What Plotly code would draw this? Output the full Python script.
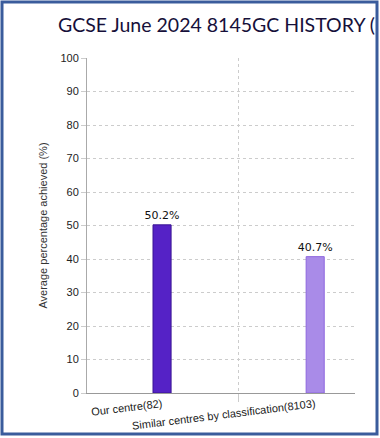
import plotly.graph_objects as go

categories = ["Our centre(82)", "Similar centres by classification(8103)"]
values = [50.2, 40.7]
value_labels = ["50.2%", "40.7%"]
bar_colors = ["#5522C6", "#A98BE8"]
bar_edges = ["#3A1593", "#8D66DE"]
title_text = "GCSE June 2024 8145GC HISTORY ("
y_ticks = [0, 10, 20, 30, 40, 50, 60, 70, 80, 90, 100]

fig = go.Figure()
fig.add_trace(go.Bar(
    x=categories,
    y=values,
    width=0.118,
    marker=dict(color=bar_colors, line=dict(color=bar_edges, width=1)),
    text=value_labels,
    textposition="outside",
    constraintext="none",
    textfont=dict(family="DejaVu Sans", size=11, color="#111111"),
    cliponaxis=False,
    hoverinfo="skip",
))

fig.update_layout(
    width=380, height=438,
    margin=dict(l=87, r=25, t=58, b=45, autoexpand=False),
    paper_bgcolor="white",
    plot_bgcolor="white",
    showlegend=False,
    title=dict(
        text=title_text,
        x=58 / 380, xanchor="left", xref="container",
        y=1 - 25 / 438, yanchor="middle", yref="container",
        font=dict(family="Lato", size=19.5, color="#16103A"),
    ),
    font=dict(family="Liberation Sans", size=11, color="#333333"),
)

fig.update_xaxes(
    type="category",
    range=[-0.49, 1.26],
    automargin=False,
    tickson="boundaries",
    showgrid=True,
    gridcolor="#CCCCCC",
    griddash="dot",
    gridwidth=1,
    showline=True,
    linecolor="#999999",
    linewidth=1,
    ticks="outside",
    ticklen=8,
    tickcolor="#CCCCCC",
    tickangle=-7,
    tickfont=dict(family="Liberation Sans", size=11, color="#222222"),
    zeroline=False,
)

fig.update_yaxes(
    range=[0, 100],
    automargin=False,
    tickvals=y_ticks,
    showgrid=True,
    gridcolor="#CCCCCC",
    griddash="dot",
    gridwidth=1,
    showline=True,
    linecolor="#AAAAAA",
    linewidth=1,
    ticks="outside",
    ticklen=5,
    tickcolor="#CCCCCC",
    tickfont=dict(family="Liberation Sans", size=11, color="#222222"),
    title=dict(text="Average percentage achieved (%)", standoff=10,
               font=dict(family="Liberation Sans", size=11, color="#333333")),
    zeroline=False,
)

# outer frame
fig.add_shape(
    type="rect", xref="paper", yref="paper",
    x0=(2 - 87) / 268, x1=(377 - 87) / 268,
    y0=(393 - 434) / 335, y1=(393 - 2) / 335,
    line=dict(color="#3A5C9C", width=3),
    fillcolor="rgba(0,0,0,0)",
    layer="above",
)

fig.write_html(
    "out.html",
    config={"displayModeBar": False},
    post_script="document.body.style.margin='0';document.body.style.overflow='hidden';",
)
